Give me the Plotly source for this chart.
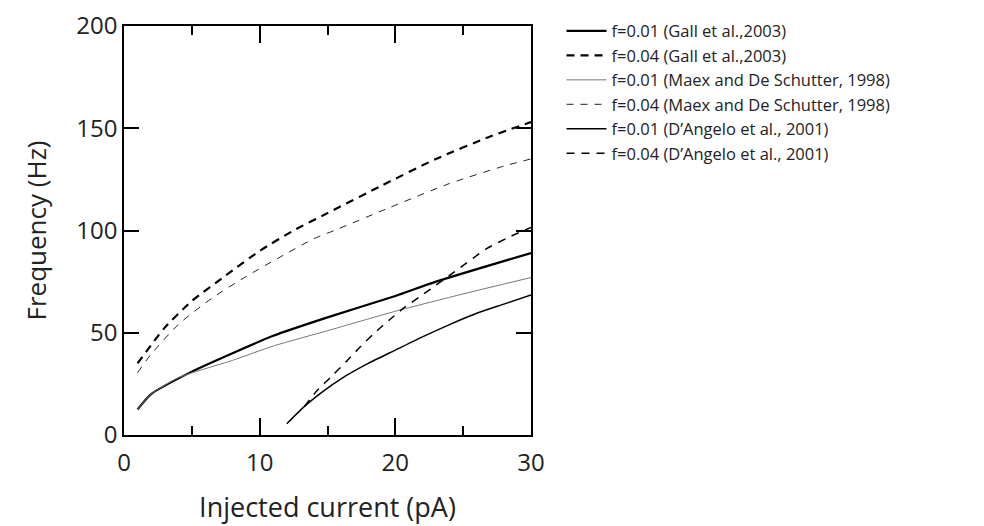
import plotly.graph_objects as go

# Gall et al., 2003
gall_f001_x = [1, 2, 5, 8, 11, 15, 20, 23, 30]
gall_f001_y = [12.5, 20, 31, 40, 48.5, 57.5, 68, 75, 89]
gall_f004_x = [1, 2, 3, 5, 7.5, 10, 12.5, 15, 19, 23, 27, 30]
gall_f004_y = [35, 44, 52.5, 65.5, 78, 90, 100, 108.5, 122, 135, 146, 153]
# Maex and De Schutter, 1998
maex_f001_x = [1, 2, 4, 8, 11, 15, 20, 25, 30]
maex_f001_y = [12.5, 20, 28, 36.5, 43.5, 51, 60.5, 69, 77]
maex_f004_x = [1, 2, 4, 6.5, 9, 11.5, 14, 15.5, 19.5, 24, 28, 30]
maex_f004_y = [30.5, 39.5, 54, 67, 77.5, 87, 96, 100, 111, 123, 131.5, 135]
# D'Angelo et al., 2001
dang_f001_x = [12, 13.3, 14.7, 16, 18, 20, 22, 24, 26, 28, 30]
dang_f001_y = [5.5, 14, 21.5, 27.5, 35, 41.5, 48, 54, 59.5, 64, 68.5]
dang_f004_x = [13.3, 14.2, 15.2, 16.4, 17.4, 18.4, 19.6, 20.7, 22.1, 24.3, 26.7, 28.3, 30]
dang_f004_y = [14, 21.5, 28, 36, 43, 49.5, 56.5, 62.5, 69, 79.5, 91, 96.5, 101.5]

x_ticks = [0, 10, 20, 30]
x_minor_ticks = [5, 15, 25]
y_ticks = [0, 50, 100, 150, 200]

names = [
    "f=0.01 (Gall et al.,2003)",
    "f=0.04 (Gall et al.,2003)",
    "f=0.01 (Maex and De Schutter, 1998)",
    "f=0.04 (Maex and De Schutter, 1998)",
    "f=0.01 (D\u2019Angelo et al., 2001)",
    "f=0.04 (D\u2019Angelo et al., 2001)",
]

series = [
    (gall_f001_x, gall_f001_y, dict(color="black", width=2.2, dash="solid")),
    (gall_f004_x, gall_f004_y, dict(color="black", width=2.2, dash="8px,6px")),
    (maex_f001_x, maex_f001_y, dict(color="#777777", width=1, dash="solid")),
    (maex_f004_x, maex_f004_y, dict(color="#222222", width=1, dash="7px,7px")),
    (dang_f001_x, dang_f001_y, dict(color="black", width=1.5, dash="solid")),
    (dang_f004_x, dang_f004_y, dict(color="black", width=1.5, dash="8px,7px")),
]

fig = go.Figure()
for (x, y, line), name in zip(series, names):
    line = dict(line, shape="spline", smoothing=0.6)
    fig.add_trace(go.Scatter(x=x, y=y, mode="lines", name=name, line=line))

font_family = "Open Sans, DejaVu Sans, sans-serif"
fig.update_layout(
    width=984,
    height=526,
    margin=dict(l=116, r=461, t=18, b=99, autoexpand=False),
    plot_bgcolor="white",
    paper_bgcolor="white",
    font=dict(family=font_family, color="#222222"),
    legend=dict(
        x=1.075, y=1.03, xanchor="left", yanchor="top",
        font=dict(size=16.5, color="#222222", family=font_family),
        bgcolor="rgba(0,0,0,0)", tracegroupgap=0, itemwidth=40,
    ),
    showlegend=True,
)
fig.update_xaxes(
    range=[0, 30], tickmode="array", tickvals=x_ticks,
    ticks="inside", ticklen=17, tickwidth=1.5, tickcolor="black",
    minor=dict(tickmode="array", tickvals=x_minor_ticks, ticks="inside",
               ticklen=9, tickwidth=1.5, tickcolor="black", showgrid=False),
    showline=True, linewidth=1.5, linecolor="black", mirror="allticks",
    showgrid=False, zeroline=False, automargin=False, ticklabeloverflow="allow",
    tickfont=dict(size=24, color="#222222"), ticklabelstandoff=5,
    title=dict(text="Injected current (pA)", font=dict(size=27, color="#222222"), standoff=22),
)
fig.update_yaxes(
    range=[0, 200], tickmode="array", tickvals=y_ticks,
    ticks="inside", ticklen=15, tickwidth=1.5, tickcolor="black",
    showline=True, linewidth=1.5, linecolor="black", mirror="allticks",
    showgrid=False, zeroline=False, automargin=False, ticklabeloverflow="allow",
    tickfont=dict(size=24, color="#222222"),
    title=dict(text="Frequency (Hz)", font=dict(size=26, color="#222222"), standoff=22),
)

fig.write_html("out.html")
